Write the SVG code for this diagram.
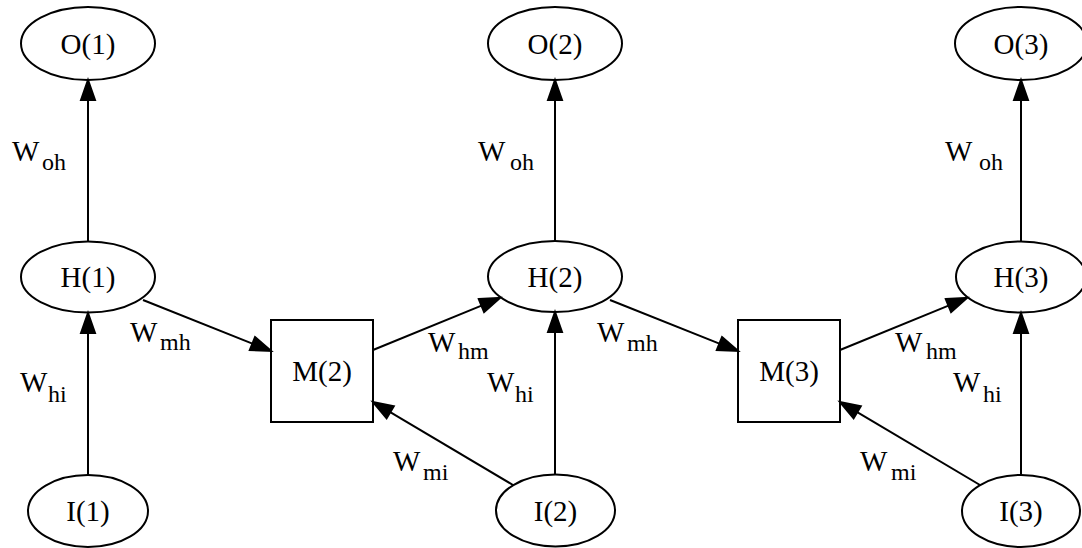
<svg xmlns="http://www.w3.org/2000/svg" width="1082" height="548" viewBox="0 0 1082 548">
<style>
.shape{fill:none;stroke:#000;stroke-width:2}
text{font-family:'Liberation Serif','Times New Roman',Tinos,'DejaVu Serif','Noto Serif',serif;fill:#000}
.lbl{font-size:29px;text-anchor:middle}
.w{font-size:29px}
.sub{font-size:24px}
.edge line{stroke:#000;stroke-width:2}
.edge polygon{fill:#000;stroke:#000;stroke-width:2}
</style>
<rect width="1082" height="548" fill="#fff"/>
<g id="edges" class="edge">
<g id="e_H1_O1"><line x1="88" y1="241.5" x2="88" y2="100"/><polygon points="81,100 88,80 95,100"/></g>
<g id="e_I1_H1"><line x1="88" y1="475" x2="88" y2="333"/><polygon points="81,333 88,313 95,333"/></g>
<g id="e_H2_O2"><line x1="555" y1="241" x2="555" y2="100"/><polygon points="548,100 555,80 562,100"/></g>
<g id="e_I2_H2"><line x1="555" y1="474" x2="555" y2="332"/><polygon points="548,332 555,312 562,332"/></g>
<g id="e_H3_O3"><line x1="1021" y1="241.5" x2="1021" y2="100"/><polygon points="1014,100 1021,80 1028,100"/></g>
<g id="e_I3_H3"><line x1="1021" y1="475" x2="1021" y2="333"/><polygon points="1014,333 1021,313 1028,333"/></g>
<g id="e_H1_M2"><line x1="143" y1="300" x2="252.4" y2="343.6"/><polygon points="255,337.1 271,351 249.8,350.1"/></g>
<g id="e_H2_M3"><line x1="610" y1="300" x2="719.4" y2="343.6"/><polygon points="722,337.1 738,351 716.8,350.1"/></g>
<g id="e_M2_H2"><line x1="373" y1="350" x2="481.5" y2="305.6"/><polygon points="478.8,299.1 500,298 484.1,312.1"/></g>
<g id="e_M3_H3"><line x1="840" y1="350" x2="948.5" y2="305.6"/><polygon points="945.8,299.1 967,298 951.1,312.1"/></g>
<g id="e_I2_M2"><line x1="513" y1="485" x2="390.2" y2="412.2"/><polygon points="393.8,406.2 373,402 386.6,418.2"/></g>
<g id="e_I3_M3"><line x1="980" y1="485" x2="857.2" y2="412.2"/><polygon points="860.8,406.2 840,402 853.6,418.2"/></g>
</g>
<g id="edge-labels">
<text class="w" x="12" y="161">W<tspan class="sub" x="42" y="170">oh</tspan></text>
<text class="w" x="478" y="161">W<tspan class="sub" x="510" y="170">oh</tspan></text>
<text class="w" x="945" y="161">W<tspan class="sub" x="979" y="170">oh</tspan></text>
<text class="w" x="20" y="392">W<tspan class="sub" x="48" y="402">hi</tspan></text>
<text class="w" x="487" y="392">W<tspan class="sub" x="515" y="402">hi</tspan></text>
<text class="w" x="953" y="392">W<tspan class="sub" x="983" y="402">hi</tspan></text>
<text class="w" x="130" y="342">W<tspan class="sub" x="160" y="350">mh</tspan></text>
<text class="w" x="597" y="342">W<tspan class="sub" x="627" y="351">mh</tspan></text>
<text class="w" x="428" y="352">W<tspan class="sub" x="458" y="359">hm</tspan></text>
<text class="w" x="895" y="352">W<tspan class="sub" x="926" y="359">hm</tspan></text>
<text class="w" x="393" y="471">W<tspan class="sub" x="423" y="480">mi</tspan></text>
<text class="w" x="860" y="471">W<tspan class="sub" x="891" y="480">mi</tspan></text>
</g>
<g id="O1"><ellipse class="shape" cx="88" cy="43.5" rx="67" ry="36.5"/><text class="lbl" x="88" y="53.5">O(1)</text></g>
<g id="O2"><ellipse class="shape" cx="555" cy="43.5" rx="67" ry="36.5"/><text class="lbl" x="555" y="53.5">O(2)</text></g>
<g id="O3"><ellipse class="shape" cx="1021" cy="43.5" rx="66" ry="36.5"/><text class="lbl" x="1021" y="53.5">O(3)</text></g>
<g id="H1"><ellipse class="shape" cx="88" cy="277" rx="67" ry="35.5"/><text class="lbl" x="88" y="287">H(1)</text></g>
<g id="H2"><ellipse class="shape" cx="555" cy="276.5" rx="67" ry="35.5"/><text class="lbl" x="555" y="286.5">H(2)</text></g>
<g id="H3"><ellipse class="shape" cx="1021" cy="277" rx="65" ry="35.5"/><text class="lbl" x="1021" y="287">H(3)</text></g>
<g id="I1"><ellipse class="shape" cx="88" cy="511" rx="60" ry="36"/><text class="lbl" x="88" y="521">I(1)</text></g>
<g id="I2"><ellipse class="shape" cx="555.5" cy="510.5" rx="59.5" ry="36"/><text class="lbl" x="555.5" y="520.5">I(2)</text></g>
<g id="I3"><ellipse class="shape" cx="1021" cy="511" rx="59" ry="36"/><text class="lbl" x="1021" y="521">I(3)</text></g>
<g id="M2"><rect class="shape" x="271" y="320" width="102" height="102"/><text class="lbl" x="322" y="381">M(2)</text></g>
<g id="M3"><rect class="shape" x="738" y="320" width="102" height="102"/><text class="lbl" x="789" y="381">M(3)</text></g>
</svg>
